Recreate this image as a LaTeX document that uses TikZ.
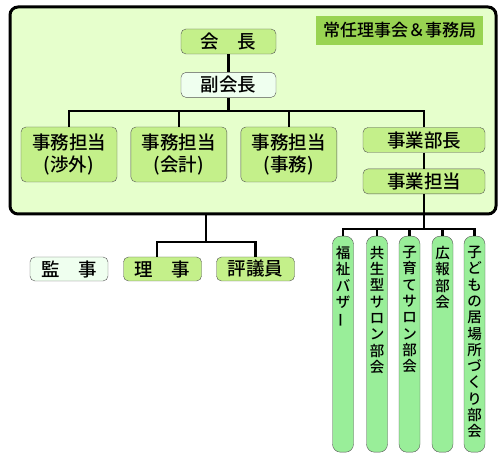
\documentclass[tikz,border=0pt]{standalone}
\usepackage{fontspec}
\usepackage{graphicx}
\setmainfont{Noto Sans CJK JP}[UprightFont={* Medium}]
\usetikzlibrary{shapes,arrows,positioning}

\definecolor{framegreen}{HTML}{E6FFCC}
\definecolor{titlegreen}{HTML}{99D452}
\definecolor{boxgreen}{HTML}{C4F08A}
\definecolor{palegreen}{HTML}{EFFFEF}
\definecolor{bukaigreen}{HTML}{99EE99}
\definecolor{boxline}{HTML}{555555}

\newcommand{\tate}[1]{\parbox[t][196pt][t]{21pt}{\centering\fontsize{14.5}{16.3}\selectfont #1}}
\newcommand{\chouon}{\rotatebox[origin=c]{90}{ー}}

\tikzset{
  frame/.style={draw=black, fill=framegreen, line width=3pt, rounded corners=8pt,
    minimum width=486pt, minimum height=207pt},
  titlebox/.style={fill=titlegreen, minimum width=167pt, minimum height=29pt,
    font=\fontsize{17}{19}\selectfont},
  box/.style={draw=boxline, fill=boxgreen, thin, rounded corners=5pt, inner sep=0pt,
    align=center, minimum height=25pt, font=\fontsize{18.5}{22}\selectfont},
  palebox/.style={box, fill=palegreen},
  bukai/.style={draw=boxline, fill=bukaigreen, thin, rounded corners=8pt, anchor=north,
    inner xsep=0pt, inner ysep=10pt},
  conn/.style={line width=2.5pt},
}

\begin{document}
\begin{tikzpicture}[x=1pt,y=-1pt]
\useasboundingbox (0,0) rectangle (504,470);

\node[frame] (jimukyoku) at (253,110.5) {};
\node[titlebox] (title) at (399.5,30.5) {常任理事会＆事務局};

\node[box, minimum width=95pt] (kaicho) at (228.5,41.5) {会　長};
\node[palebox, minimum width=95pt, below=18pt of kaicho] (fukukaicho) {副会長};

\node[box, minimum width=96pt, minimum height=55pt] (shogai) at (69,154.5) {事務担当\\(渉外)};
\node[box, minimum width=96pt, minimum height=55pt, right=13.5pt of shogai] (kaikei) {事務担当\\(会計)};
\node[box, minimum width=96pt, minimum height=55pt, right=13.5pt of kaikei] (jimu) {事務担当\\(事務)};
\node[box, minimum width=122pt] (buchou) at (424,140) {事業部長};
\node[box, minimum width=122pt, below=16pt of buchou] (jigyo) {事業担当};

\coordinate (bar) at (228.5,111);
\draw[conn] (kaicho) -- (fukukaicho);
\draw[conn] (fukukaicho) -- (bar);
\draw[conn] (shogai.north) |- (bar) -| (buchou.north);
\draw[conn] (kaikei.north) -- (kaikei.north |- bar);
\draw[conn] (jimu.north) -- (jimu.north |- bar);
\draw[conn] (buchou) -- (jigyo);

% bukai
\node[bukai] (bazaar) at (343,236) {\tate{福\\祉\\バ\\ザ\\\chouon}};
\node[bukai] (kyosei) at (377,236) {\tate{共\\生\\型\\サ\\ロ\\ン\\部\\会}};
\node[bukai] (kosodate) at (409.5,236) {\tate{子\\育\\て\\サ\\ロ\\ン\\部\\会}};
\node[bukai] (koho) at (442.5,236) {\tate{広\\報\\部\\会}};
\node[bukai] (ibasho) at (474.5,236) {\tate{子\\ど\\も\\の\\居\\場\\所\\づ\\く\\り\\部\\会}};

\coordinate (bukaibar) at (424,229);
\draw[conn] (jigyo) -- (bukaibar);
\draw[conn] (bazaar.north) |- (bukaibar) -| (ibasho.north);
\draw[conn] (kyosei.north) -- (kyosei.north |- bukaibar);
\draw[conn] (kosodate.north) -- (kosodate.north |- bukaibar);
\draw[conn] (koho.north) -- (koho.north |- bukaibar);

% kanji, riji
\node[palebox, minimum width=78pt, minimum height=24pt] (kanji) at (69,269) {監　事};
\node[box, minimum width=78pt, minimum height=24pt] (riji) at (162.5,269) {理　事};
\node[box, minimum width=78pt, minimum height=24pt] (hyogi) at (255.5,269) {評議員};

\coordinate (rijibar) at (206,242);
\draw[conn] (jimukyoku.south -| rijibar) -- (rijibar);
\draw[conn] ([xshift=-5.5pt]riji.north) |- (rijibar) -| (hyogi.north);
\end{tikzpicture}
\end{document}
